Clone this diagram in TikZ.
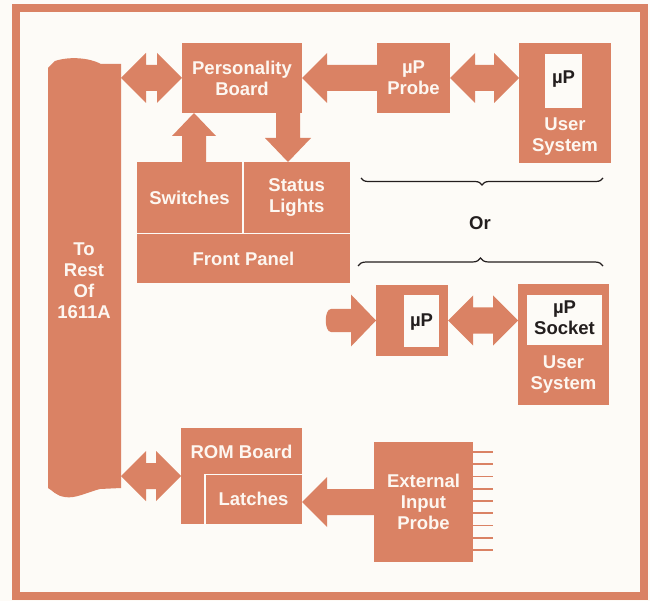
\documentclass[tikz,border=0pt]{standalone}
\usepackage{fontspec}
\setmainfont{Liberation Sans}
\usetikzlibrary{calc,decorations.pathreplacing}
\definecolor{ac}{RGB}{218,130,100}
\definecolor{bg}{RGB}{253,251,247}
\definecolor{tw}{RGB}{253,247,241}
\definecolor{tk}{RGB}{35,30,30}
% double-headed horizontal block arrow from #1 (left) to #2 (right)
\newcommand\dblarrow[2]{\fill[ac] let \p1=#1, \p2=#2 in
  (\x1,\y1) -- ({\x1+25pt},{\y1+25pt}) -- ({\x1+25pt},{\y1+13pt}) -- ({\x2-25pt},{\y1+13pt})
  -- ({\x2-25pt},{\y1+25pt}) -- (\x2,\y1) -- ({\x2-25pt},{\y1-25pt}) -- ({\x2-25pt},{\y1-13pt})
  -- ({\x1+25pt},{\y1-13pt}) -- ({\x1+25pt},{\y1-25pt}) -- cycle;}
% left-pointing block arrow: tip #1, tail #2
\newcommand\larrow[2]{\fill[ac] let \p1=#1, \p2=#2 in
  (\x1,\y1) -- ({\x1+25pt},{\y1+25pt}) -- ({\x1+25pt},{\y1+13pt}) -- (\x2,{\y1+13pt})
  -- (\x2,{\y1-13pt}) -- ({\x1+25pt},{\y1-13pt}) -- ({\x1+25pt},{\y1-25pt}) -- cycle;}
% up-pointing block arrow: tip #1 (top), tail #2
\newcommand\uarrow[2]{\fill[ac] let \p1=#1, \p2=#2 in
  (\x1,\y1) -- ({\x1+22pt},{\y1-23pt}) -- ({\x1+12pt},{\y1-23pt}) -- ({\x1+12pt},\y2)
  -- ({\x1-12pt},\y2) -- ({\x1-12pt},{\y1-23pt}) -- ({\x1-22pt},{\y1-23pt}) -- cycle;}
% down-pointing block arrow: tip #1 (bottom), tail #2
\newcommand\darrow[2]{\fill[ac] let \p1=#1, \p2=#2 in
  (\x1,\y1) -- ({\x1+23pt},{\y1+24pt}) -- ({\x1+12pt},{\y1+24pt}) -- ({\x1+12pt},\y2)
  -- ({\x1-12pt},\y2) -- ({\x1-12pt},{\y1+24pt}) -- ({\x1-23pt},{\y1+24pt}) -- cycle;}
\begin{document}
\begin{tikzpicture}[x=1pt,y=-1pt,
  box/.style={fill=ac,inner sep=0pt,outer sep=0pt},
  chip/.style={fill=bg,inner sep=0pt,outer sep=0pt},
  lbl/.style={text=tw,font=\fontsize{18.5}{21}\selectfont\bfseries,align=center},
  dk/.style={text=tk,font=\fontsize{18.5}{21}\selectfont\bfseries,align=center}]
\fill[bg] (0,0) rectangle (650,601);
\useasboundingbox (0,0) rectangle (650,601);
\draw[ac,line width=8pt] (16,8) rectangle (644,596);

% bar "To Rest Of 1611A"
\fill[ac] (48,68) -- (55,61) .. controls (70,56) and (90,58) .. (101,64) -- (121,64)
  -- (121,488) -- (100,489) .. controls (88,492) and (75,499) .. (65,497)
  .. controls (56,496) and (52,490) .. (48,488) -- cycle;
\node[lbl] (bart) at (84,281) {To\\Rest\\Of\\1611A};
\coordinate (barE) at (121,281);

% top row
\node[box,lbl,minimum width=120pt,minimum height=70pt] (pb) at (242,78) {Personality\\Board};
\node[box,lbl,minimum width=73pt,minimum height=70pt] (probe) at (413.5,78) {µP\\Probe};
\node[box,minimum width=92pt,minimum height=120pt] (us1) at (565,103) {};
\node[chip,minimum width=37pt,minimum height=54pt] (chip1) at (563.5,81) {};
\node[dk] (chip1t) at (563.5,79) {µP};
\node[lbl] (us1t) at (565,137) {User\\System};

% front panel
\node[box,lbl,minimum width=105pt,minimum height=71pt] (sw) at (189.5,197.5) {Switches};
\node[box,lbl,minimum width=106.5pt,minimum height=71pt] (sl) at (296.75,197.5) {Status\\Lights};
\node[box,lbl,minimum width=213pt,minimum height=48.5pt] (fp) at (243.5,258.75) {Front Panel};
\coordinate (upx) at (194,0);
\coordinate (dnx) at (288,0);

% braces and Or
\draw[tk,line width=1.2pt,decorate,decoration={brace,mirror,amplitude=7pt}] (361,178) -- (603,178);
\node[dk] (or) at (480,223) {Or};
\draw[tk,line width=1.2pt,decorate,decoration={brace,amplitude=8pt}] (358,266) -- (603,266);

% second option row
\node[box,minimum width=72pt,minimum height=71pt] (mp2) at (412,320.5) {};
\node[chip,minimum width=35pt,minimum height=52pt] (chip2) at (421.5,321) {};
\node[dk] (chip2t) at (421.5,322) {µP};
\node[box,minimum width=91pt,minimum height=121pt] (us2) at (563.5,344.5) {};
\node[chip,minimum width=75pt,minimum height=50pt] (sock) at (564.5,320) {};
\node[dk] (sockt) at (564.5,318) {µP\\Socket};
\node[lbl] (us2t) at (563.5,375) {User\\System};
\coordinate (tail2) at (325,319);

% ROM board and latches
\node[box,minimum width=121pt,minimum height=96pt] (rom) at (241.5,476) {};
\node[lbl] (romt) at (241.5,452) {ROM Board};
\node[box,lbl,minimum width=97pt,minimum height=49.5pt] (lat) at (253.5,499.25) {Latches};
\draw[bg,line width=1.5pt] (lat.south west) -- (lat.north west) -- (lat.north east);

% external input probe
\node[box,lbl,minimum width=99pt,minimum height=120pt] (ext) at (423.5,502) {External\\Input\\Probe};
\foreach \i in {0,...,8}
  \draw[ac,line width=1.6pt] ($(ext.north east)+(0,10+12.25*\i)$) -- ++(20,0);

% block arrows
\dblarrow{(barE |- pb.west)}{(pb.west)}
\larrow{(pb.east)}{(probe.west)}
\dblarrow{(probe.east)}{(us1.west |- probe.east)}
\uarrow{(upx |- pb.south)}{(upx |- sw.north)}
\darrow{(dnx |- sl.north)}{(dnx |- pb.south)}
\fill[ac] let \p1=(mp2.west), \p2=(tail2) in
  (\x1,\y1) -- ({\x1-25pt},{\y1+26pt}) -- ({\x1-25pt},{\y1+11.5pt}) -- ({\x2+6pt},{\y1+11.5pt})
  .. controls ({\x2-1pt},{\y1+11.5pt}) and ({\x2-1pt},{\y1-11.5pt}) .. ({\x2+6pt},{\y1-11.5pt})
  -- ({\x1-25pt},{\y1-11.5pt}) -- ({\x1-25pt},{\y1-26pt}) -- cycle;
\dblarrow{(mp2.east)}{(us2.west |- mp2.east)}
\dblarrow{(barE |- rom.west)}{(rom.west)}
\larrow{(lat.east |- ext.west)}{(ext.west)}
\end{tikzpicture}
\end{document}
